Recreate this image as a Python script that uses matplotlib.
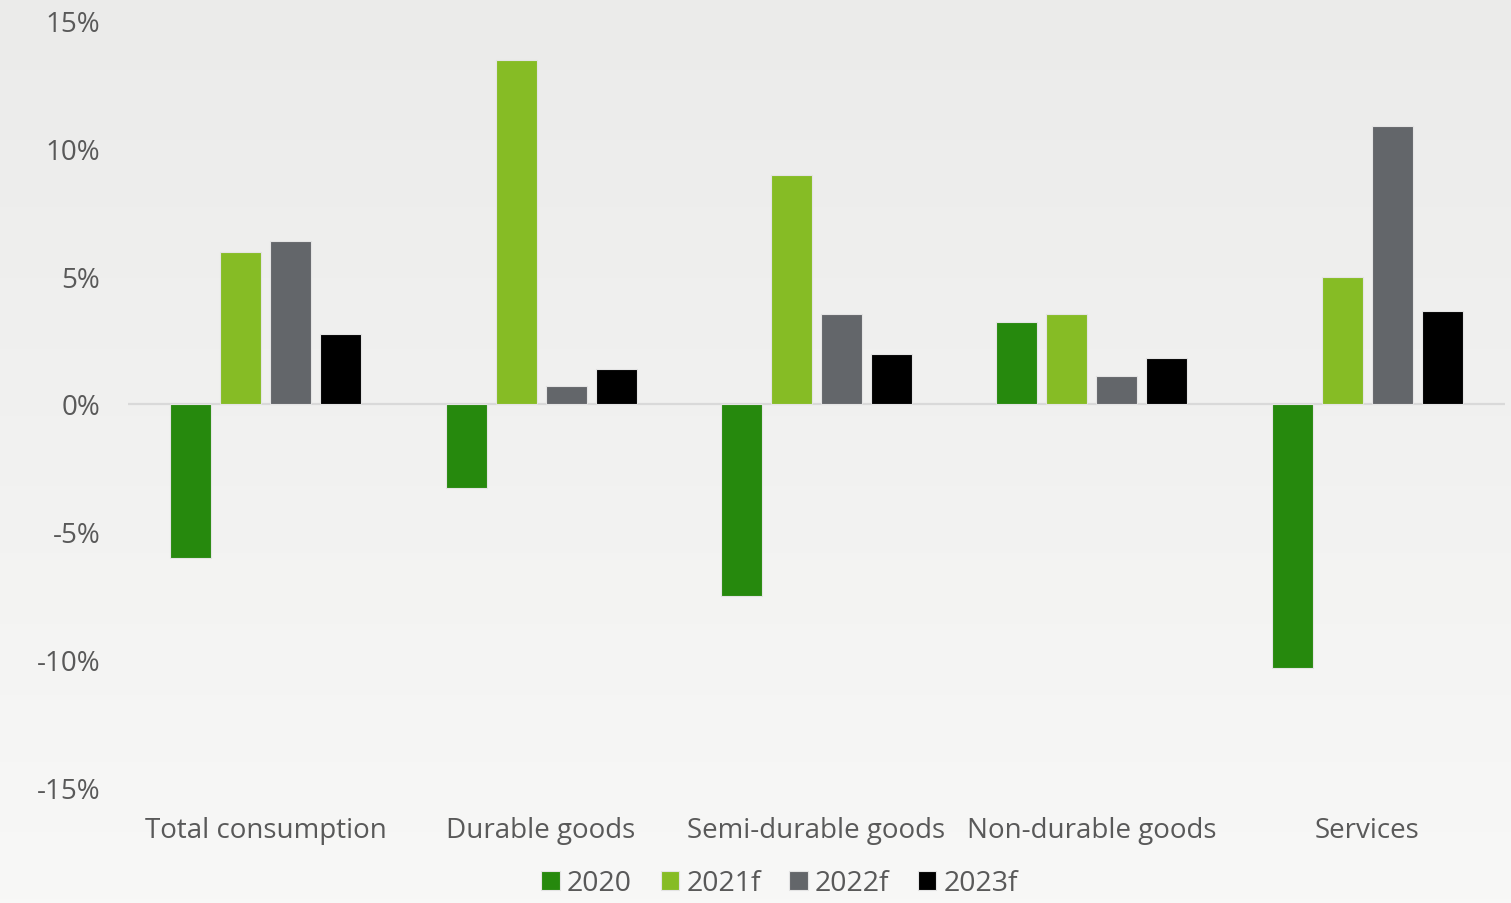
import numpy as np
import matplotlib
matplotlib.use("Agg")
import matplotlib.pyplot as plt
from matplotlib.colors import LinearSegmentedColormap
from matplotlib.ticker import FuncFormatter

categories = ["Total consumption", "Durable goods", "Semi-durable goods",
              "Non-durable goods", "Services"]
series = ["2020", "2021f", "2022f", "2023f"]
v2020 = [-6.0, -3.3, -7.5, 3.2, -10.3]
v2021 = [5.95, 13.45, 8.95, 3.5, 4.95]
v2022 = [6.35, 0.7, 3.5, 1.1, 10.85]
v2023 = [2.75, 1.35, 1.95, 1.8, 3.65]
colors = ["#26890d", "#86bc25", "#63666a", "#000000"]

plt.rcParams['font.family'] = ['Open Sans', 'DejaVu Sans']
txt = "#595959"

fig = plt.figure(figsize=(15.11, 9.04), dpi=100)

# soft vertical gradient behind everything
bg = fig.add_axes([0, 0, 1, 1], zorder=-10)
grad = np.linspace(0, 1, 256).reshape(-1, 1)
cmap = LinearSegmentedColormap.from_list("bg", ["#ebebea", "#f8f8f7"])
bg.imshow(grad, aspect="auto", cmap=cmap, extent=[0, 1, 0, 1])
bg.axis("off")

ax = fig.add_axes([128 / 1511, 115 / 904, 1377 / 1511, 768 / 904])
ax.patch.set_alpha(0)

x = np.arange(len(categories))
width = 0.149
step = 0.1815
for i, (vals, c, name) in enumerate(zip([v2020, v2021, v2022, v2023], colors, series)):
    ax.bar(x + (i - 1.5) * step, vals, width, color=c, label=name,
           edgecolor="#e4e4e4", linewidth=0.8, zorder=3)

ax.axhline(0, color="#d9d9d9", linewidth=1.6, zorder=2)
ax.set_xlim(-0.5, 4.5)
ax.set_ylim(-15, 15)
ax.set_yticks(np.arange(-15, 16, 5))
ax.yaxis.set_major_formatter(FuncFormatter(lambda v, p: f"{v:.0f}%"))
ax.set_xticks(x)
ax.set_xticklabels(categories)
ax.tick_params(axis="both", length=0, labelsize=20, colors=txt)
ax.tick_params(axis="y", pad=20)
ax.tick_params(axis="x", pad=20)
for s in ax.spines.values():
    s.set_visible(False)

leg = fig.legend(loc="lower center", bbox_to_anchor=(0.516, -0.022), ncol=4,
                 frameon=False, fontsize=20.5, handlelength=0.65, handleheight=0.65,
                 handletextpad=0.25, columnspacing=1.0, labelcolor=txt)

fig.savefig("out.png", dpi=100)
